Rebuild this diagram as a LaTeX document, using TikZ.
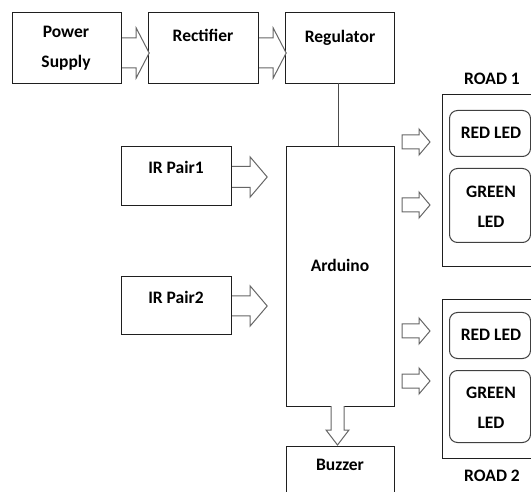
\documentclass[tikz,border=0pt]{standalone}
\usepackage{fontspec}
\setmainfont{Carlito}
\usetikzlibrary{calc}
\tikzset{
  box/.style={draw=black!88, line width=1.2pt, anchor=north west, inner sep=0pt, fill=white},
  ledbox/.style={draw=black!75, line width=1pt, rounded corners=8pt, anchor=north west, inner sep=0pt},
  txt/.style={font=\fontsize{17.5}{20}\selectfont\bfseries, inner sep=0pt, align=center},
  arrowline/.style={draw=black!60, line width=1pt, fill=white},
  pics/openarrow/.style n args={4}{code={
    \draw[arrowline] (0,-#2) -- ({#1-#4},-#2) -- ({#1-#4},-#3) -- (#1,0) -- ({#1-#4},#3) -- ({#1-#4},#2) -- (0,#2);
  }},
  pics/closedarrow/.style n args={4}{code={
    \draw[arrowline] (0,-#2) -- ({#1-#4},-#2) -- ({#1-#4},-#3) -- (#1,0) -- ({#1-#4},#3) -- ({#1-#4},#2) -- (0,#2) -- cycle;
  }}
}
\begin{document}
\begin{tikzpicture}[x=1pt,y=-1pt]
\useasboundingbox (0,0) rectangle (531,492);
\clip (0,0) rectangle (531,492);
% top chain
\node[box, minimum width=109pt, minimum height=71pt] (ps) at (12,12) {};
\node[box, minimum width=110pt, minimum height=71pt] (rect) at (148,12) {};
\node[box, minimum width=109pt, minimum height=71pt] (reg) at (285,12) {};
\node[txt] (pst) at (66,48) {Power\\[10pt]Supply};
\node[txt] (rectt) at (203,35) {Rectifier};
\node[txt] (regt) at (340,37.5) {Regulator};
% IR
\node[box, minimum width=110pt, minimum height=59pt] (ir1) at (121,146) {};
\node[box, minimum width=110pt, minimum height=58pt] (ir2) at (121,276) {};
\node[txt] (ir1t) at (176,167) {IR Pair1};
\node[txt] (ir2t) at (176,297) {IR Pair2};
% Arduino and buzzer
\node[box, minimum width=108pt, minimum height=260pt] (ard) at (286,146) {};
\node[txt] (ardt) at (340,265) {Arduino};
\node[box, minimum width=108pt, minimum height=60pt] (buz) at (286,446) {};
\node[txt] (buzt) at (340,465) {Buzzer};
\draw[draw=black!70, line width=1pt] (338,83) -- (338,146);
% block arrows
\pic (a1) at ($(ps.north east)+(0,41)$) {openarrow={27}{15}{25}{13}};
\pic (a2) at ($(rect.north east)+(0,41)$) {openarrow={27}{15}{25}{13}};
\pic (a3) at ($(ir1.north east)+(0,31)$) {openarrow={35}{10.5}{20}{17}};
\pic (a4) at ($(ir2.north east)+(0,30)$) {openarrow={35}{10}{20}{17}};
\pic[rotate=-90] (a5) at (337.5,406) {openarrow={39}{6.5}{11.5}{15}};
% roads
\node[box, minimum width=100pt, minimum height=172pt] (road1) at (442,94) {};
\node[box, minimum width=100pt, minimum height=159pt] (road2) at (442,299) {};
\node[txt] (r1t) at (492,79) {ROAD 1};
\node[txt] (r2t) at (492,476) {ROAD 2};
\node[ledbox, minimum width=81pt, minimum height=46pt] (red1) at (449,110) {};
\node[ledbox, minimum width=81pt, minimum height=74pt] (green1) at (449,168) {};
\node[ledbox, minimum width=81pt, minimum height=46pt] (red2) at (449,312) {};
\node[ledbox, minimum width=81pt, minimum height=72pt] (green2) at (449,370) {};
\node[txt] (red1t) at (491,133) {RED LED};
\node[txt] (green1t) at (491,207) {GREEN\\[10pt]LED};
\node[txt] (red2t) at (491,335) {RED LED};
\node[txt] (green2t) at (491,408) {GREEN\\[10pt]LED};
\pic (b1) at (402,142) {closedarrow={28}{7}{13}{11}};
\pic (b2) at (402,205) {closedarrow={28}{7}{13}{11}};
\pic (b3) at (402,331) {closedarrow={28}{7}{13}{11}};
\pic (b4) at (402,381) {closedarrow={28}{7}{13}{11}};
\end{tikzpicture}
\end{document}
